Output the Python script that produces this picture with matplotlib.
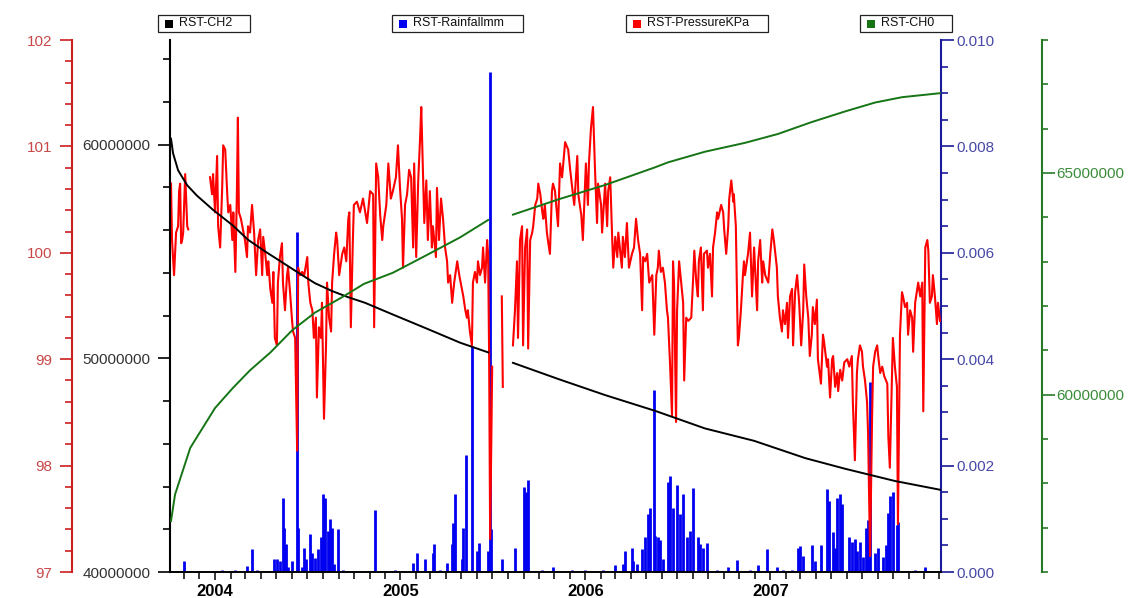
import numpy as np
import matplotlib
matplotlib.use("Agg")
import matplotlib.pyplot as plt
import matplotlib.dates as mdates
from matplotlib.ticker import MultipleLocator, FuncFormatter
from matplotlib.patches import Rectangle

plt.rcParams['font.family'] = ['Liberation Sans', 'DejaVu Sans']

# ---------------------------------------------------------------- data
# All series are indexed by day offset from 2003-10-01.
START = np.datetime64('2003-10-01')
nan = np.nan

# RST-PressureKPa (gaps are marked with nan)
pressure_day = [
    5, 7, 11, 15, 19, 21, 23, 25, 27, 29,
    33, 37, 39, 60, 82, 86, 88, 92, 96, 98,
    102, 106, 108, 112, 116, 118, 122, 126, 128, 132,
    135, 137, 139, 143, 147, 151, 155, 157, 161, 165,
    169, 173, 177, 181, 185, 187, 191, 195, 197, 201,
    205, 207, 210, 214, 216, 220, 224, 226, 230, 234,
    236, 240, 244, 246, 250, 254, 256, 260, 264, 268,
    274, 276, 280, 284, 287, 291, 293, 297, 301, 303,
    307, 311, 313, 317, 321, 323, 327, 331, 333, 337,
    341, 343, 347, 351, 355, 357, 360, 364, 366, 372,
    378, 384, 392, 398, 404, 406, 410, 414, 418, 422,
    424, 430, 434, 439, 443, 449, 453, 457, 461, 463,
    467, 471, 475, 479, 483, 485, 489, 493, 497, 499,
    503, 505, 509, 512, 516, 520, 522, 528, 530, 534,
    538, 542, 546, 550, 552, 556, 560, 564, 570, 574,
    578, 582, 586, 589, 591, 595, 599, 601, 605, 609,
    611, 615, 619, 621, 625, 629, 631, 633, 635, 639,
    648, 658, 660, 670, 680, 684, 688, 690, 694, 698,
    700, 704, 708, 710, 714, 718, 720, 724, 728, 730,
    734, 738, 740, 743, 747, 749, 753, 757, 759, 763,
    769, 773, 777, 783, 789, 793, 797, 801, 807, 809,
    815, 818, 824, 828, 830, 834, 838, 842, 846, 848,
    854, 856, 862, 866, 868, 872, 876, 878, 882, 886,
    888, 891, 895, 897, 901, 905, 909, 915, 919, 923,
    927, 931, 935, 937, 941, 945, 949, 955, 959, 963,
    966, 968, 972, 976, 980, 984, 986, 990, 994, 996,
    998, 1002, 1004, 1008, 1012, 1016, 1018, 1022, 1026, 1032,
    1036, 1038, 1042, 1045, 1047, 1051, 1055, 1057, 1063, 1065,
    1069, 1073, 1075, 1079, 1083, 1085, 1091, 1095, 1097, 1101,
    1105, 1107, 1111, 1115, 1116, 1120, 1124, 1126, 1130, 1134,
    1136, 1138, 1144, 1148, 1152, 1156, 1162, 1164, 1168, 1172,
    1174, 1178, 1184, 1188, 1192, 1195, 1201, 1203, 1207, 1211,
    1213, 1217, 1221, 1223, 1227, 1231, 1233, 1237, 1241, 1245,
    1249, 1253, 1255, 1259, 1263, 1266, 1270, 1272, 1276, 1280,
    1282, 1288, 1292, 1294, 1300, 1302, 1306, 1310, 1312, 1316,
    1320, 1322, 1326, 1330, 1334, 1340, 1344, 1349, 1351, 1355,
    1359, 1361, 1365, 1369, 1371, 1375, 1379, 1381, 1385, 1389,
    1391, 1395, 1399, 1401, 1405, 1409, 1413, 1419, 1421, 1424,
    1428, 1430, 1434, 1438, 1440, 1444, 1448, 1450, 1454, 1458,
    1460, 1464, 1468, 1470, 1474, 1478, 1480, 1484, 1488, 1490,
    1494, 1498, 1500, 1503, 1507, 1509, 1513, 1517, 1519, 1523,
]
pressure_kpa = [
    100.65, 100.12, 99.79, 100.19, 100.25, 100.58, 100.65, 100.09, 100.12, 100.19,
    100.74, 100.25, 100.22, nan, 100.71, 100.55, 100.74, 100.38, 100.91, 100.25,
    100.05, 100.61, 101.01, 100.97, 100.55, 100.38, 100.45, 100.12, 100.38, 99.82,
    100.55, 101.27, 100.38, 100.32, 100.22, 100.12, 99.96, 100.25, 100.19, 100.45,
    100.19, 99.79, 100.12, 100.22, 99.79, 100.15, 99.99, 99.79, 99.92, 99.66,
    99.53, 99.82, 99.20, 99.13, 99.72, 99.96, 100.09, 99.72, 99.46, 99.79,
    99.86, 99.63, 99.36, 99.26, 99.20, 98.14, 99.86, 99.79, 99.82, 99.79,
    99.96, 99.72, 99.53, 99.46, 99.20, 99.39, 98.64, 99.30, 99.20, 99.53,
    98.44, 99.13, 99.72, 99.39, 99.26, 99.72, 99.99, 100.19, 100.12, 99.79,
    99.92, 99.99, 100.05, 99.92, 100.32, 100.38, 99.30, 100.12, 100.45, 100.48,
    100.38, 100.51, 100.28, 100.58, 100.55, 99.30, 100.84, 100.71, 100.35, 100.12,
    100.25, 100.45, 100.84, 100.51, 100.58, 100.71, 101.01, 100.61, 100.32, 99.86,
    100.45, 100.55, 100.78, 100.71, 100.05, 100.84, 99.96, 100.68, 101.11, 101.37,
    100.65, 100.28, 100.68, 100.12, 100.58, 100.05, 100.25, 99.96, 100.61, 100.12,
    100.51, 100.32, 100.05, 99.92, 99.72, 99.79, 99.53, 99.72, 99.92, 99.79,
    99.69, 99.59, 99.46, 99.39, 99.46, 99.26, 99.13, 99.72, 99.82, 99.72,
    99.92, 99.79, 99.86, 100.05, 99.72, 100.12, 99.99, 99.00, 97.31, 98.93,
    nan, 99.59, 98.74, nan, 99.13, 99.46, 99.92, 99.20, 100.12, 100.25,
    99.13, 100.05, 100.22, 99.10, 100.12, 100.19, 100.25, 100.45, 100.51, 100.65,
    100.55, 100.38, 100.32, 100.45, 100.19, 100.12, 99.99, 100.58, 100.65, 100.58,
    100.25, 100.84, 100.71, 101.04, 100.97, 100.78, 100.61, 100.45, 100.91, 100.55,
    100.35, 100.12, 100.84, 100.45, 100.84, 101.17, 101.37, 100.78, 100.28, 100.65,
    100.45, 100.19, 100.65, 100.25, 100.58, 100.71, 100.12, 99.86, 100.15, 99.96,
    100.19, 100.05, 99.86, 100.15, 99.96, 100.28, 99.86, 99.99, 100.05, 100.32,
    100.12, 99.99, 99.46, 99.96, 99.92, 99.99, 99.72, 99.79, 99.23, 99.79,
    99.86, 100.02, 99.82, 99.86, 99.72, 99.46, 99.39, 98.97, 98.47, 99.92,
    99.72, 98.41, 99.46, 99.92, 99.72, 99.53, 98.80, 99.39, 99.36, 99.39,
    99.79, 100.02, 99.72, 99.59, 99.92, 100.05, 99.46, 99.99, 100.02, 99.86,
    99.99, 99.59, 100.05, 100.19, 100.38, 100.32, 100.45, 100.38, 100.22, 99.99,
    100.25, 100.51, 100.68, 100.48, 100.55, 100.25, 99.13, 99.20, 99.46, 99.79,
    99.92, 99.79, 99.99, 100.19, 99.59, 100.05, 99.46, 99.92, 100.12, 99.72,
    99.92, 99.79, 99.72, 99.99, 100.22, 100.12, 99.86, 99.59, 99.39, 99.26,
    99.46, 99.33, 99.53, 99.20, 99.59, 99.66, 99.13, 99.63, 99.79, 99.53,
    99.13, 99.46, 99.89, 99.59, 99.39, 99.03, 99.23, 99.49, 99.33, 99.56,
    99.00, 98.77, 99.23, 99.17, 98.93, 99.00, 98.64, 99.00, 99.03, 98.74,
    98.87, 98.70, 98.90, 98.80, 98.97, 99.00, 98.93, 99.03, 98.60, 98.05,
    98.87, 99.00, 99.13, 99.07, 98.93, 98.80, 98.60, 98.31, 97.15, 98.47,
    98.93, 99.07, 99.13, 99.03, 98.87, 98.93, 98.84, 98.77, 98.28, 97.98,
    98.80, 99.20, 98.93, 98.74, 97.45, 99.23, 99.63, 99.59, 99.49, 99.53,
    99.23, 99.46, 99.39, 99.07, 99.53, 99.66, 99.72, 99.59, 99.72, 98.51,
    100.05, 100.12, 100.02, 99.53, 99.59, 99.79, 99.59, 99.33, 99.53, 99.36,
]

# RST-Rainfallmm
rain_day = [
    31, 86, 106, 132, 155, 165, 175, 208, 214, 220,
    226, 228, 232, 236, 244, 254, 256, 264, 268, 272,
    280, 284, 289, 295, 301, 305, 309, 315, 319, 323,
    327, 335, 345, 408, 447, 483, 491, 507, 522, 524,
    536, 550, 560, 562, 566, 580, 582, 588, 599, 609,
    613, 631, 635, 637, 659, 684, 702, 706, 710, 738,
    759, 797, 822, 858, 882, 897, 901, 915, 917, 925,
    935, 941, 947, 951, 959, 961, 966, 970, 976, 986,
    990, 996, 1004, 1010, 1016, 1024, 1030, 1036, 1045, 1049,
    1055, 1063, 1083, 1105, 1122, 1148, 1164, 1182, 1201, 1213,
    1231, 1243, 1247, 1253, 1270, 1276, 1288, 1300, 1304, 1312,
    1316, 1320, 1326, 1330, 1344, 1349, 1355, 1359, 1365, 1371,
    1377, 1381, 1385, 1395, 1401, 1411, 1417, 1421, 1424, 1430,
    1438, 1440, 1474, 1494,
]
rain_mm = [
    0.00021, 0.00002, 0.00004, 0.00003, 0.00011, 0.00043, 0.00003, 0.00025, 0.00025, 0.00020,
    0.00140, 0.00083, 0.00053, 0.00010, 0.00021, 0.00640, 0.00083, 0.00010, 0.00046, 0.00025,
    0.00071, 0.00035, 0.00026, 0.00043, 0.00066, 0.00146, 0.00140, 0.00077, 0.00100, 0.00083,
    0.00015, 0.00080, 0.00003, 0.00117, 0.00003, 0.00017, 0.00036, 0.00025, 0.00036, 0.00053,
    0.00003, 0.00017, 0.00053, 0.00092, 0.00147, 0.00025, 0.00083, 0.00219, 0.00424, 0.00040,
    0.00055, 0.00040, 0.00940, 0.00080, 0.00025, 0.00046, 0.00160, 0.00150, 0.00173, 0.00003,
    0.00010, 0.00003, 0.00003, 0.00004, 0.00013, 0.00015, 0.00040, 0.00046, 0.00020, 0.00015,
    0.00043, 0.00066, 0.00109, 0.00120, 0.00342, 0.00068, 0.00066, 0.00060, 0.00025, 0.00170,
    0.00180, 0.00120, 0.00164, 0.00109, 0.00147, 0.00066, 0.00077, 0.00158, 0.00066, 0.00053,
    0.00046, 0.00055, 0.00003, 0.00010, 0.00022, 0.00003, 0.00013, 0.00043, 0.00010, 0.00003,
    0.00003, 0.00046, 0.00049, 0.00030, 0.00050, 0.00020, 0.00050, 0.00156, 0.00134, 0.00075,
    0.00046, 0.00140, 0.00147, 0.00128, 0.00066, 0.00057, 0.00062, 0.00040, 0.00057, 0.00028,
    0.00082, 0.00097, 0.00358, 0.00035, 0.00046, 0.00028, 0.00050, 0.00110, 0.00143, 0.00150,
    0.00088, 0.00094, 0.00003, 0.00010,
]

# RST-CH2
ch2_day = [5, 9, 19, 37, 56, 88, 127, 157, 191, 224,
           256, 289, 323, 355, 388, 443, 510, 576, 631, 660,
           680, 771, 862, 961, 1059, 1156, 1257, 1336, 1434, 1523]
ch2_val = [60.28e6, 59.60e6, 58.80e6, 58.10e6, 57.62e6, 56.95e6, 56.22e6, 55.55e6, 55.00e6, 54.50e6,
           54.01e6, 53.52e6, 53.15e6, 52.86e6, 52.60e6, 52.05e6, 51.39e6, 50.73e6, 50.28e6, nan,
           49.79e6, 49.02e6, 48.28e6, 47.54e6, 46.72e6, 46.14e6, 45.33e6, 44.83e6, 44.26e6, 43.85e6]

# RST-CH0
ch0_day = [5, 13, 23, 43, 62, 92, 127, 161, 201, 244,
           289, 343, 386, 443, 510, 576, 631, 660, 680, 771,
           862, 961, 986, 1059, 1138, 1203, 1270, 1336, 1395, 1448, 1523]
ch0_val = [57.15e6, 57.75e6, 58.10e6, 58.80e6, 59.15e6, 59.70e6, 60.15e6, 60.55e6, 60.95e6, 61.45e6,
           61.85e6, 62.20e6, 62.50e6, 62.75e6, 63.15e6, 63.55e6, 63.94e6, nan, 64.06e6, 64.41e6,
           64.73e6, 65.13e6, 65.24e6, 65.48e6, 65.68e6, 65.88e6, 66.15e6, 66.39e6, 66.59e6, 66.71e6, 66.80e6]

legend_items = ['RST-CH2', 'RST-Rainfallmm', 'RST-PressureKPa', 'RST-CH0']


def as_dates(days):
    return START + np.asarray(days).astype('timedelta64[D]')


# ---------------------------------------------------------------- colours
C_RED_LINE, C_RED_AX, C_RED_TXT = '#ff0000', '#cc1f1f', '#c84848'
C_BLUE_LINE, C_BLUE_AX, C_BLUE_TXT = '#0000f0', '#1a1a9a', '#4848a8'
C_GREEN_LINE, C_GREEN_AX, C_GREEN_TXT = '#157515', '#267a26', '#3a8c3a'
C_BLACK_TXT = '#333333'

# ---------------------------------------------------------------- figure
W, H = 1133, 598
fig = plt.figure(figsize=(W / 100, H / 100), dpi=100)
fig.patch.set_facecolor('white')

x0, x1, y_top, y_bot = 170, 941, 40, 572
ax = fig.add_axes([x0 / W, 1 - y_bot / H, (x1 - x0) / W, (y_bot - y_top) / H])
ax_rain = ax.twinx()
ax_p = ax.twinx()
ax_g = ax.twinx()

ax_rain.set_zorder(1)
ax_p.set_zorder(2)
ax.set_zorder(3)
ax_g.set_zorder(4)
for a in (ax, ax_rain, ax_p, ax_g):
    a.patch.set_visible(False)
    for s in a.spines.values():
        s.set_visible(False)

# series
ax_rain.vlines(as_dates(rain_day), 0, rain_mm, color=C_BLUE_LINE, lw=2.0)
ax_p.plot(as_dates(pressure_day), pressure_kpa, color=C_RED_LINE, lw=1.5)
ax.plot(as_dates(ch2_day), ch2_val, color='black', lw=1.4)
ax_g.plot(as_dates(ch0_day), ch0_val, color=C_GREEN_LINE, lw=1.4)

# x axis
ax.set_xlim(START + np.timedelta64(3, 'D'), START + np.timedelta64(1525, 'D'))
ax.xaxis.set_major_locator(mdates.YearLocator())
ax.xaxis.set_minor_locator(mdates.MonthLocator())
ax.xaxis.set_major_formatter(mdates.DateFormatter('%Y'))
ax.tick_params(axis='x', which='major', length=6, width=1.1, labelsize=12, pad=3)
ax.tick_params(axis='x', which='minor', length=5, width=1.1)
ax.spines['bottom'].set_visible(True)
ax.spines['bottom'].set_linewidth(1.4)

# black CH2 axis (left, at plot edge)
ax.set_ylim(40e6, 64.9e6)
ax.spines['left'].set_visible(True)
ax.spines['left'].set_linewidth(1.5)
ax.yaxis.set_major_locator(MultipleLocator(10e6))
ax.yaxis.set_minor_locator(MultipleLocator(2e6))
ax.yaxis.set_major_formatter(FuncFormatter(lambda v, p: f'{v:.0f}'))
ax.tick_params(axis='y', which='major', length=9, width=1.2, labelsize=11,
               labelcolor=C_BLACK_TXT, pad=5)
ax.tick_params(axis='y', which='minor', length=5, width=1.2)

# blue rainfall axis (right, at plot edge)
ax_rain.set_ylim(0, 0.010)
ax_rain.spines['right'].set_visible(True)
ax_rain.spines['right'].set_color(C_BLUE_AX)
ax_rain.spines['right'].set_linewidth(1.5)
ax_rain.yaxis.set_major_locator(MultipleLocator(0.002))
ax_rain.yaxis.set_minor_locator(MultipleLocator(0.0005))
ax_rain.yaxis.set_major_formatter(FuncFormatter(lambda v, p: f'{v:.3f}'))
ax_rain.tick_params(axis='y', which='major', length=9, width=1.2, color=C_BLUE_AX,
                    labelsize=11, labelcolor=C_BLUE_TXT, pad=2)
ax_rain.tick_params(axis='y', which='minor', length=5, width=1.2, color=C_BLUE_AX)

# red pressure axis (far left)
ax_p.set_ylim(97, 102)
ax_p.yaxis.tick_left()
ax_p.spines['left'].set_visible(True)
ax_p.spines['left'].set_position(('axes', (72 - x0) / (x1 - x0)))
ax_p.spines['left'].set_color(C_RED_AX)
ax_p.spines['left'].set_linewidth(1.5)
ax_p.yaxis.set_major_locator(MultipleLocator(1))
ax_p.yaxis.set_minor_locator(MultipleLocator(0.2))
ax_p.yaxis.set_major_formatter(FuncFormatter(lambda v, p: f'{v:.0f}'))
ax_p.tick_params(axis='y', which='major', length=9, width=1.2, color=C_RED_AX,
                 labelsize=11, labelcolor=C_RED_TXT, pad=5)
ax_p.tick_params(axis='y', which='minor', length=5, width=1.2, color=C_RED_AX)

# green CH0 axis (far right)
ax_g.set_ylim(56e6, 68e6)
ax_g.spines['right'].set_visible(True)
ax_g.spines['right'].set_position(('axes', (1042 - x0) / (x1 - x0)))
ax_g.spines['right'].set_color(C_GREEN_AX)
ax_g.spines['right'].set_linewidth(1.5)
ax_g.yaxis.set_major_locator(MultipleLocator(5e6))
ax_g.yaxis.set_minor_locator(MultipleLocator(1e6))
ax_g.yaxis.set_major_formatter(FuncFormatter(lambda v, p: f'{v:.0f}'))
ax_g.tick_params(axis='y', which='major', length=9, width=1.2, color=C_GREEN_AX,
                 labelsize=11, labelcolor=C_GREEN_TXT, pad=1)
ax_g.tick_params(axis='y', which='minor', length=4, width=1.2, color=C_GREEN_AX)

for lbl in ax.get_xticklabels():
    lbl.set_fontweight('bold')

# legend boxes along the top edge
box_specs = [(158, 250, 'black'), (392, 523, C_BLUE_LINE),
             (626, 768, C_RED_LINE), (860, 952, C_GREEN_LINE)]
by0, by1 = 15, 32
for label, (bx0, bx1, col) in zip(legend_items, box_specs):
    fig.add_artist(Rectangle((bx0 / W, 1 - by1 / H), (bx1 - bx0) / W, (by1 - by0) / H,
                             transform=fig.transFigure, facecolor='white',
                             edgecolor='#222222', lw=0.9))
    fig.add_artist(Rectangle(((bx0 + 7) / W, 1 - 28 / H), 8 / W, 8 / H,
                             transform=fig.transFigure, facecolor=col, edgecolor='none'))
    fig.text((bx0 + 21) / W, 1 - 23.5 / H, label, fontsize=9, color='#111111',
             va='center', ha='left')

fig.savefig('out.png', dpi=100, facecolor='white')
